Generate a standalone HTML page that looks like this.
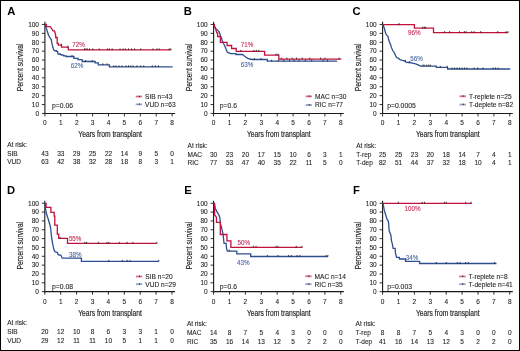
<!DOCTYPE html>
<html><head><meta charset="utf-8"><title>Survival curves</title>
<style>
html,body{margin:0;padding:0;background:#fff;}
svg{display:block;will-change:transform;}
text{font-family:"Liberation Sans",sans-serif;}
</style></head><body>
<svg width="520" height="351" viewBox="0 0 520 351">
<rect x="0" y="0" width="520" height="351" fill="#fff"/>
<text x="7.30" y="15.20" font-size="11.2" text-anchor="start" fill="#000" font-weight="bold">A</text>
<line x1="44.90" y1="21.85" x2="44.90" y2="113.95" stroke="#1a1a1a" stroke-width="1.1"/>
<line x1="41.90" y1="113.45" x2="44.90" y2="113.45" stroke="#1a1a1a" stroke-width="0.9"/>
<text x="39.00" y="115.75" font-size="6.5" text-anchor="end" fill="#231f20" stroke="#231f20" stroke-width="0.1">0</text>
<line x1="41.90" y1="104.55" x2="44.90" y2="104.55" stroke="#1a1a1a" stroke-width="0.9"/>
<text x="39.00" y="106.85" font-size="6.5" text-anchor="end" fill="#231f20" stroke="#231f20" stroke-width="0.1">10</text>
<line x1="41.90" y1="95.65" x2="44.90" y2="95.65" stroke="#1a1a1a" stroke-width="0.9"/>
<text x="39.00" y="97.95" font-size="6.5" text-anchor="end" fill="#231f20" stroke="#231f20" stroke-width="0.1">20</text>
<line x1="41.90" y1="86.75" x2="44.90" y2="86.75" stroke="#1a1a1a" stroke-width="0.9"/>
<text x="39.00" y="89.05" font-size="6.5" text-anchor="end" fill="#231f20" stroke="#231f20" stroke-width="0.1">30</text>
<line x1="41.90" y1="77.85" x2="44.90" y2="77.85" stroke="#1a1a1a" stroke-width="0.9"/>
<text x="39.00" y="80.15" font-size="6.5" text-anchor="end" fill="#231f20" stroke="#231f20" stroke-width="0.1">40</text>
<line x1="41.90" y1="68.95" x2="44.90" y2="68.95" stroke="#1a1a1a" stroke-width="0.9"/>
<text x="39.00" y="71.25" font-size="6.5" text-anchor="end" fill="#231f20" stroke="#231f20" stroke-width="0.1">50</text>
<line x1="41.90" y1="60.05" x2="44.90" y2="60.05" stroke="#1a1a1a" stroke-width="0.9"/>
<text x="39.00" y="62.35" font-size="6.5" text-anchor="end" fill="#231f20" stroke="#231f20" stroke-width="0.1">60</text>
<line x1="41.90" y1="51.15" x2="44.90" y2="51.15" stroke="#1a1a1a" stroke-width="0.9"/>
<text x="39.00" y="53.45" font-size="6.5" text-anchor="end" fill="#231f20" stroke="#231f20" stroke-width="0.1">70</text>
<line x1="41.90" y1="42.25" x2="44.90" y2="42.25" stroke="#1a1a1a" stroke-width="0.9"/>
<text x="39.00" y="44.55" font-size="6.5" text-anchor="end" fill="#231f20" stroke="#231f20" stroke-width="0.1">80</text>
<line x1="41.90" y1="33.35" x2="44.90" y2="33.35" stroke="#1a1a1a" stroke-width="0.9"/>
<text x="39.00" y="35.65" font-size="6.5" text-anchor="end" fill="#231f20" stroke="#231f20" stroke-width="0.1">90</text>
<line x1="41.90" y1="24.45" x2="44.90" y2="24.45" stroke="#1a1a1a" stroke-width="0.9"/>
<text x="39.00" y="26.75" font-size="6.5" text-anchor="end" fill="#231f20" stroke="#231f20" stroke-width="0.1">100</text>
<line x1="44.40" y1="113.45" x2="175.10" y2="113.45" stroke="#1a1a1a" stroke-width="1.1"/>
<line x1="44.90" y1="113.45" x2="44.90" y2="116.45" stroke="#1a1a1a" stroke-width="0.9"/>
<text x="44.90" y="124.90" font-size="6.5" text-anchor="middle" fill="#231f20" stroke="#231f20" stroke-width="0.1">0</text>
<line x1="60.80" y1="113.45" x2="60.80" y2="116.45" stroke="#1a1a1a" stroke-width="0.9"/>
<text x="60.80" y="124.90" font-size="6.5" text-anchor="middle" fill="#231f20" stroke="#231f20" stroke-width="0.1">1</text>
<line x1="76.70" y1="113.45" x2="76.70" y2="116.45" stroke="#1a1a1a" stroke-width="0.9"/>
<text x="76.70" y="124.90" font-size="6.5" text-anchor="middle" fill="#231f20" stroke="#231f20" stroke-width="0.1">2</text>
<line x1="92.60" y1="113.45" x2="92.60" y2="116.45" stroke="#1a1a1a" stroke-width="0.9"/>
<text x="92.60" y="124.90" font-size="6.5" text-anchor="middle" fill="#231f20" stroke="#231f20" stroke-width="0.1">3</text>
<line x1="108.50" y1="113.45" x2="108.50" y2="116.45" stroke="#1a1a1a" stroke-width="0.9"/>
<text x="108.50" y="124.90" font-size="6.5" text-anchor="middle" fill="#231f20" stroke="#231f20" stroke-width="0.1">4</text>
<line x1="124.40" y1="113.45" x2="124.40" y2="116.45" stroke="#1a1a1a" stroke-width="0.9"/>
<text x="124.40" y="124.90" font-size="6.5" text-anchor="middle" fill="#231f20" stroke="#231f20" stroke-width="0.1">5</text>
<line x1="140.30" y1="113.45" x2="140.30" y2="116.45" stroke="#1a1a1a" stroke-width="0.9"/>
<text x="140.30" y="124.90" font-size="6.5" text-anchor="middle" fill="#231f20" stroke="#231f20" stroke-width="0.1">6</text>
<line x1="156.20" y1="113.45" x2="156.20" y2="116.45" stroke="#1a1a1a" stroke-width="0.9"/>
<text x="156.20" y="124.90" font-size="6.5" text-anchor="middle" fill="#231f20" stroke="#231f20" stroke-width="0.1">7</text>
<line x1="172.10" y1="113.45" x2="172.10" y2="116.45" stroke="#1a1a1a" stroke-width="0.9"/>
<text x="172.10" y="124.90" font-size="6.5" text-anchor="middle" fill="#231f20" stroke="#231f20" stroke-width="0.1">8</text>
<text transform="translate(78.30 137.00) scale(0.81 1)" font-size="8.3" text-anchor="start" fill="#231f20" stroke="#231f20" stroke-width="0.18">Years from transplant</text>
<text transform="translate(22.80 67.40) rotate(-90) scale(0.81 1)" font-size="8.3" text-anchor="middle" fill="#231f20" stroke="#231f20" stroke-width="0.18">Percent survival</text>
<text x="52.00" y="107.90" font-size="6.8" text-anchor="start" fill="#231f20" stroke="#231f20" stroke-width="0.1">p=0.06</text>
<line x1="135.70" y1="96.60" x2="142.10" y2="96.60" stroke="#c0123c" stroke-width="1.8" stroke-opacity="0.6"/>
<line x1="135.70" y1="104.40" x2="142.10" y2="104.40" stroke="#2c4e90" stroke-width="1.8" stroke-opacity="0.5"/>
<line x1="139.30" y1="95.70" x2="139.30" y2="96.90" stroke="#000" stroke-width="0.9"/>
<line x1="139.30" y1="103.50" x2="139.30" y2="104.70" stroke="#000" stroke-width="0.9"/>
<text x="145.10" y="98.90" font-size="6.6" text-anchor="start" fill="#231f20" stroke="#231f20" stroke-width="0.1">SIB n=43</text>
<text x="145.10" y="106.70" font-size="6.6" text-anchor="start" fill="#231f20" stroke="#231f20" stroke-width="0.1">VUD n=63</text>
<text x="7.20" y="147.00" font-size="6.5" text-anchor="start" fill="#231f20" stroke="#231f20" stroke-width="0.1">At risk:</text>
<text x="7.20" y="155.70" font-size="6.5" text-anchor="start" fill="#231f20" stroke="#231f20" stroke-width="0.1">SIB</text>
<text x="7.20" y="164.30" font-size="6.5" text-anchor="start" fill="#231f20" stroke="#231f20" stroke-width="0.1">VUD</text>
<text x="44.90" y="155.70" font-size="6.5" text-anchor="middle" fill="#231f20" stroke="#231f20" stroke-width="0.1">43</text>
<text x="60.80" y="155.70" font-size="6.5" text-anchor="middle" fill="#231f20" stroke="#231f20" stroke-width="0.1">33</text>
<text x="76.70" y="155.70" font-size="6.5" text-anchor="middle" fill="#231f20" stroke="#231f20" stroke-width="0.1">29</text>
<text x="92.60" y="155.70" font-size="6.5" text-anchor="middle" fill="#231f20" stroke="#231f20" stroke-width="0.1">25</text>
<text x="108.50" y="155.70" font-size="6.5" text-anchor="middle" fill="#231f20" stroke="#231f20" stroke-width="0.1">22</text>
<text x="124.40" y="155.70" font-size="6.5" text-anchor="middle" fill="#231f20" stroke="#231f20" stroke-width="0.1">14</text>
<text x="140.30" y="155.70" font-size="6.5" text-anchor="middle" fill="#231f20" stroke="#231f20" stroke-width="0.1">9</text>
<text x="156.20" y="155.70" font-size="6.5" text-anchor="middle" fill="#231f20" stroke="#231f20" stroke-width="0.1">5</text>
<text x="172.10" y="155.70" font-size="6.5" text-anchor="middle" fill="#231f20" stroke="#231f20" stroke-width="0.1">0</text>
<text x="44.90" y="164.30" font-size="6.5" text-anchor="middle" fill="#231f20" stroke="#231f20" stroke-width="0.1">63</text>
<text x="60.80" y="164.30" font-size="6.5" text-anchor="middle" fill="#231f20" stroke="#231f20" stroke-width="0.1">42</text>
<text x="76.70" y="164.30" font-size="6.5" text-anchor="middle" fill="#231f20" stroke="#231f20" stroke-width="0.1">38</text>
<text x="92.60" y="164.30" font-size="6.5" text-anchor="middle" fill="#231f20" stroke="#231f20" stroke-width="0.1">32</text>
<text x="108.50" y="164.30" font-size="6.5" text-anchor="middle" fill="#231f20" stroke="#231f20" stroke-width="0.1">28</text>
<text x="124.40" y="164.30" font-size="6.5" text-anchor="middle" fill="#231f20" stroke="#231f20" stroke-width="0.1">18</text>
<text x="140.30" y="164.30" font-size="6.5" text-anchor="middle" fill="#231f20" stroke="#231f20" stroke-width="0.1">8</text>
<text x="156.20" y="164.30" font-size="6.5" text-anchor="middle" fill="#231f20" stroke="#231f20" stroke-width="0.1">3</text>
<text x="172.10" y="164.30" font-size="6.5" text-anchor="middle" fill="#231f20" stroke="#231f20" stroke-width="0.1">1</text>
<path d="M45.00,24.50 L46.50,28.90 L47.30,31.20 L48.50,35.30 L49.90,37.60 L51.10,39.30 L51.70,41.90 L52.20,44.90 L53.40,49.00 L54.30,50.60 L56.30,50.60 L56.30,51.40 L57.60,51.40 L57.60,52.30 L58.20,54.00 L60.20,54.00 L60.20,54.60 L61.90,54.60 L61.90,55.20 L63.70,55.20 L63.70,55.80 L66.00,55.80 L66.00,56.50 L73.90,56.50 L73.90,58.30 L78.00,58.30 L78.00,59.70 L82.20,59.70 L82.20,61.50 L95.10,61.50 L95.10,62.90 L98.30,62.90 L98.30,64.80 L109.40,64.80 L109.40,66.80 L172.60,66.80" fill="none" stroke="#2c4e90" stroke-width="1.3" stroke-linejoin="miter" stroke-miterlimit="2"/>
<path d="M45.00,24.50 L46.40,24.50 L46.40,26.60 L50.20,26.60 L51.10,27.80 L52.20,29.50 L53.10,30.90 L54.50,30.90 L55.10,33.00 L55.70,35.30 L55.70,37.50 L57.20,37.50 L57.20,43.30 L58.30,43.30 L58.30,45.20 L61.50,45.20 L61.50,47.20 L68.30,47.20 L68.30,49.90 L171.20,49.90" fill="none" stroke="#c0123c" stroke-width="1.3" stroke-linejoin="miter" stroke-miterlimit="2"/>
<line x1="72.00" y1="55.00" x2="72.00" y2="56.60" stroke="#111" stroke-width="0.8"/>
<line x1="85.40" y1="60.00" x2="85.40" y2="61.60" stroke="#111" stroke-width="0.8"/>
<line x1="92.30" y1="60.00" x2="92.30" y2="61.60" stroke="#111" stroke-width="0.8"/>
<line x1="102.90" y1="63.30" x2="102.90" y2="64.90" stroke="#111" stroke-width="0.8"/>
<line x1="107.00" y1="63.30" x2="107.00" y2="64.90" stroke="#111" stroke-width="0.8"/>
<line x1="113.80" y1="65.30" x2="113.80" y2="66.90" stroke="#111" stroke-width="0.8"/>
<line x1="116.00" y1="65.30" x2="116.00" y2="66.90" stroke="#111" stroke-width="0.8"/>
<line x1="119.00" y1="65.30" x2="119.00" y2="66.90" stroke="#111" stroke-width="0.8"/>
<line x1="122.00" y1="65.30" x2="122.00" y2="66.90" stroke="#111" stroke-width="0.8"/>
<line x1="126.00" y1="65.30" x2="126.00" y2="66.90" stroke="#111" stroke-width="0.8"/>
<line x1="128.50" y1="65.30" x2="128.50" y2="66.90" stroke="#111" stroke-width="0.8"/>
<line x1="130.80" y1="65.30" x2="130.80" y2="66.90" stroke="#111" stroke-width="0.8"/>
<line x1="133.00" y1="65.30" x2="133.00" y2="66.90" stroke="#111" stroke-width="0.8"/>
<line x1="137.00" y1="65.30" x2="137.00" y2="66.90" stroke="#111" stroke-width="0.8"/>
<line x1="140.80" y1="65.30" x2="140.80" y2="66.90" stroke="#111" stroke-width="0.8"/>
<line x1="143.80" y1="65.30" x2="143.80" y2="66.90" stroke="#111" stroke-width="0.8"/>
<line x1="152.30" y1="65.30" x2="152.30" y2="66.90" stroke="#111" stroke-width="0.8"/>
<line x1="155.40" y1="65.30" x2="155.40" y2="66.90" stroke="#111" stroke-width="0.8"/>
<line x1="158.50" y1="65.30" x2="158.50" y2="66.90" stroke="#111" stroke-width="0.8"/>
<line x1="61.30" y1="43.70" x2="61.30" y2="45.30" stroke="#111" stroke-width="0.8"/>
<line x1="67.90" y1="45.70" x2="67.90" y2="47.30" stroke="#111" stroke-width="0.8"/>
<line x1="84.50" y1="48.40" x2="84.50" y2="50.00" stroke="#111" stroke-width="0.8"/>
<line x1="85.90" y1="48.40" x2="85.90" y2="50.00" stroke="#111" stroke-width="0.8"/>
<line x1="87.20" y1="48.40" x2="87.20" y2="50.00" stroke="#111" stroke-width="0.8"/>
<line x1="89.50" y1="48.40" x2="89.50" y2="50.00" stroke="#111" stroke-width="0.8"/>
<line x1="92.80" y1="48.40" x2="92.80" y2="50.00" stroke="#111" stroke-width="0.8"/>
<line x1="99.20" y1="48.40" x2="99.20" y2="50.00" stroke="#111" stroke-width="0.8"/>
<line x1="107.50" y1="48.40" x2="107.50" y2="50.00" stroke="#111" stroke-width="0.8"/>
<line x1="109.40" y1="48.40" x2="109.40" y2="50.00" stroke="#111" stroke-width="0.8"/>
<line x1="112.20" y1="48.40" x2="112.20" y2="50.00" stroke="#111" stroke-width="0.8"/>
<line x1="120.00" y1="48.40" x2="120.00" y2="50.00" stroke="#111" stroke-width="0.8"/>
<line x1="123.00" y1="48.40" x2="123.00" y2="50.00" stroke="#111" stroke-width="0.8"/>
<line x1="125.40" y1="48.40" x2="125.40" y2="50.00" stroke="#111" stroke-width="0.8"/>
<line x1="128.50" y1="48.40" x2="128.50" y2="50.00" stroke="#111" stroke-width="0.8"/>
<line x1="131.50" y1="48.40" x2="131.50" y2="50.00" stroke="#111" stroke-width="0.8"/>
<line x1="134.60" y1="48.40" x2="134.60" y2="50.00" stroke="#111" stroke-width="0.8"/>
<line x1="140.80" y1="48.40" x2="140.80" y2="50.00" stroke="#111" stroke-width="0.8"/>
<line x1="153.00" y1="48.40" x2="153.00" y2="50.00" stroke="#111" stroke-width="0.8"/>
<line x1="157.00" y1="48.40" x2="157.00" y2="50.00" stroke="#111" stroke-width="0.8"/>
<line x1="159.20" y1="48.40" x2="159.20" y2="50.00" stroke="#111" stroke-width="0.8"/>
<line x1="169.20" y1="48.40" x2="169.20" y2="50.00" stroke="#111" stroke-width="0.8"/>
<line x1="170.80" y1="48.40" x2="170.80" y2="50.00" stroke="#111" stroke-width="0.8"/>
<text transform="translate(72.30 46.90) scale(0.96 1)" font-size="6.5" text-anchor="start" fill="#c42a52" stroke="#c42a52" stroke-width="0.1">72%</text>
<text transform="translate(70.80 68.00) scale(0.96 1)" font-size="6.5" text-anchor="start" fill="#4a66a0" stroke="#4a66a0" stroke-width="0.1">62%</text>
<text x="183.80" y="15.20" font-size="11.2" text-anchor="start" fill="#000" font-weight="bold">B</text>
<line x1="213.60" y1="21.85" x2="213.60" y2="113.95" stroke="#1a1a1a" stroke-width="1.1"/>
<line x1="210.60" y1="113.45" x2="213.60" y2="113.45" stroke="#1a1a1a" stroke-width="0.9"/>
<text x="207.70" y="115.75" font-size="6.5" text-anchor="end" fill="#231f20" stroke="#231f20" stroke-width="0.1">0</text>
<line x1="210.60" y1="104.55" x2="213.60" y2="104.55" stroke="#1a1a1a" stroke-width="0.9"/>
<text x="207.70" y="106.85" font-size="6.5" text-anchor="end" fill="#231f20" stroke="#231f20" stroke-width="0.1">10</text>
<line x1="210.60" y1="95.65" x2="213.60" y2="95.65" stroke="#1a1a1a" stroke-width="0.9"/>
<text x="207.70" y="97.95" font-size="6.5" text-anchor="end" fill="#231f20" stroke="#231f20" stroke-width="0.1">20</text>
<line x1="210.60" y1="86.75" x2="213.60" y2="86.75" stroke="#1a1a1a" stroke-width="0.9"/>
<text x="207.70" y="89.05" font-size="6.5" text-anchor="end" fill="#231f20" stroke="#231f20" stroke-width="0.1">30</text>
<line x1="210.60" y1="77.85" x2="213.60" y2="77.85" stroke="#1a1a1a" stroke-width="0.9"/>
<text x="207.70" y="80.15" font-size="6.5" text-anchor="end" fill="#231f20" stroke="#231f20" stroke-width="0.1">40</text>
<line x1="210.60" y1="68.95" x2="213.60" y2="68.95" stroke="#1a1a1a" stroke-width="0.9"/>
<text x="207.70" y="71.25" font-size="6.5" text-anchor="end" fill="#231f20" stroke="#231f20" stroke-width="0.1">50</text>
<line x1="210.60" y1="60.05" x2="213.60" y2="60.05" stroke="#1a1a1a" stroke-width="0.9"/>
<text x="207.70" y="62.35" font-size="6.5" text-anchor="end" fill="#231f20" stroke="#231f20" stroke-width="0.1">60</text>
<line x1="210.60" y1="51.15" x2="213.60" y2="51.15" stroke="#1a1a1a" stroke-width="0.9"/>
<text x="207.70" y="53.45" font-size="6.5" text-anchor="end" fill="#231f20" stroke="#231f20" stroke-width="0.1">70</text>
<line x1="210.60" y1="42.25" x2="213.60" y2="42.25" stroke="#1a1a1a" stroke-width="0.9"/>
<text x="207.70" y="44.55" font-size="6.5" text-anchor="end" fill="#231f20" stroke="#231f20" stroke-width="0.1">80</text>
<line x1="210.60" y1="33.35" x2="213.60" y2="33.35" stroke="#1a1a1a" stroke-width="0.9"/>
<text x="207.70" y="35.65" font-size="6.5" text-anchor="end" fill="#231f20" stroke="#231f20" stroke-width="0.1">90</text>
<line x1="210.60" y1="24.45" x2="213.60" y2="24.45" stroke="#1a1a1a" stroke-width="0.9"/>
<text x="207.70" y="26.75" font-size="6.5" text-anchor="end" fill="#231f20" stroke="#231f20" stroke-width="0.1">100</text>
<line x1="213.10" y1="113.45" x2="343.80" y2="113.45" stroke="#1a1a1a" stroke-width="1.1"/>
<line x1="213.60" y1="113.45" x2="213.60" y2="116.45" stroke="#1a1a1a" stroke-width="0.9"/>
<text x="213.60" y="124.90" font-size="6.5" text-anchor="middle" fill="#231f20" stroke="#231f20" stroke-width="0.1">0</text>
<line x1="229.50" y1="113.45" x2="229.50" y2="116.45" stroke="#1a1a1a" stroke-width="0.9"/>
<text x="229.50" y="124.90" font-size="6.5" text-anchor="middle" fill="#231f20" stroke="#231f20" stroke-width="0.1">1</text>
<line x1="245.40" y1="113.45" x2="245.40" y2="116.45" stroke="#1a1a1a" stroke-width="0.9"/>
<text x="245.40" y="124.90" font-size="6.5" text-anchor="middle" fill="#231f20" stroke="#231f20" stroke-width="0.1">2</text>
<line x1="261.30" y1="113.45" x2="261.30" y2="116.45" stroke="#1a1a1a" stroke-width="0.9"/>
<text x="261.30" y="124.90" font-size="6.5" text-anchor="middle" fill="#231f20" stroke="#231f20" stroke-width="0.1">3</text>
<line x1="277.20" y1="113.45" x2="277.20" y2="116.45" stroke="#1a1a1a" stroke-width="0.9"/>
<text x="277.20" y="124.90" font-size="6.5" text-anchor="middle" fill="#231f20" stroke="#231f20" stroke-width="0.1">4</text>
<line x1="293.10" y1="113.45" x2="293.10" y2="116.45" stroke="#1a1a1a" stroke-width="0.9"/>
<text x="293.10" y="124.90" font-size="6.5" text-anchor="middle" fill="#231f20" stroke="#231f20" stroke-width="0.1">5</text>
<line x1="309.00" y1="113.45" x2="309.00" y2="116.45" stroke="#1a1a1a" stroke-width="0.9"/>
<text x="309.00" y="124.90" font-size="6.5" text-anchor="middle" fill="#231f20" stroke="#231f20" stroke-width="0.1">6</text>
<line x1="324.90" y1="113.45" x2="324.90" y2="116.45" stroke="#1a1a1a" stroke-width="0.9"/>
<text x="324.90" y="124.90" font-size="6.5" text-anchor="middle" fill="#231f20" stroke="#231f20" stroke-width="0.1">7</text>
<line x1="340.80" y1="113.45" x2="340.80" y2="116.45" stroke="#1a1a1a" stroke-width="0.9"/>
<text x="340.80" y="124.90" font-size="6.5" text-anchor="middle" fill="#231f20" stroke="#231f20" stroke-width="0.1">8</text>
<text transform="translate(247.00 137.00) scale(0.81 1)" font-size="8.3" text-anchor="start" fill="#231f20" stroke="#231f20" stroke-width="0.18">Years from transplant</text>
<text transform="translate(191.50 67.40) rotate(-90) scale(0.81 1)" font-size="8.3" text-anchor="middle" fill="#231f20" stroke="#231f20" stroke-width="0.18">Percent survival</text>
<text x="219.80" y="107.90" font-size="6.8" text-anchor="start" fill="#231f20" stroke="#231f20" stroke-width="0.1">p=0.6</text>
<line x1="305.60" y1="96.40" x2="312.00" y2="96.40" stroke="#c0123c" stroke-width="1.8" stroke-opacity="0.6"/>
<line x1="305.60" y1="105.10" x2="312.00" y2="105.10" stroke="#2c4e90" stroke-width="1.8" stroke-opacity="0.5"/>
<line x1="309.20" y1="95.50" x2="309.20" y2="96.70" stroke="#000" stroke-width="0.9"/>
<line x1="309.20" y1="104.20" x2="309.20" y2="105.40" stroke="#000" stroke-width="0.9"/>
<text x="315.00" y="98.70" font-size="6.6" text-anchor="start" fill="#231f20" stroke="#231f20" stroke-width="0.1">MAC n=30</text>
<text x="315.00" y="107.40" font-size="6.6" text-anchor="start" fill="#231f20" stroke="#231f20" stroke-width="0.1">RIC n=77</text>
<text x="187.60" y="147.70" font-size="6.5" text-anchor="start" fill="#231f20" stroke="#231f20" stroke-width="0.1">At risk:</text>
<text x="187.60" y="156.50" font-size="6.5" text-anchor="start" fill="#231f20" stroke="#231f20" stroke-width="0.1">MAC</text>
<text x="187.60" y="165.20" font-size="6.5" text-anchor="start" fill="#231f20" stroke="#231f20" stroke-width="0.1">RIC</text>
<text x="213.60" y="156.50" font-size="6.5" text-anchor="middle" fill="#231f20" stroke="#231f20" stroke-width="0.1">30</text>
<text x="229.50" y="156.50" font-size="6.5" text-anchor="middle" fill="#231f20" stroke="#231f20" stroke-width="0.1">23</text>
<text x="245.40" y="156.50" font-size="6.5" text-anchor="middle" fill="#231f20" stroke="#231f20" stroke-width="0.1">20</text>
<text x="261.30" y="156.50" font-size="6.5" text-anchor="middle" fill="#231f20" stroke="#231f20" stroke-width="0.1">17</text>
<text x="277.20" y="156.50" font-size="6.5" text-anchor="middle" fill="#231f20" stroke="#231f20" stroke-width="0.1">15</text>
<text x="293.10" y="156.50" font-size="6.5" text-anchor="middle" fill="#231f20" stroke="#231f20" stroke-width="0.1">10</text>
<text x="309.00" y="156.50" font-size="6.5" text-anchor="middle" fill="#231f20" stroke="#231f20" stroke-width="0.1">6</text>
<text x="324.90" y="156.50" font-size="6.5" text-anchor="middle" fill="#231f20" stroke="#231f20" stroke-width="0.1">3</text>
<text x="340.80" y="156.50" font-size="6.5" text-anchor="middle" fill="#231f20" stroke="#231f20" stroke-width="0.1">1</text>
<text x="213.60" y="165.20" font-size="6.5" text-anchor="middle" fill="#231f20" stroke="#231f20" stroke-width="0.1">77</text>
<text x="229.50" y="165.20" font-size="6.5" text-anchor="middle" fill="#231f20" stroke="#231f20" stroke-width="0.1">53</text>
<text x="245.40" y="165.20" font-size="6.5" text-anchor="middle" fill="#231f20" stroke="#231f20" stroke-width="0.1">47</text>
<text x="261.30" y="165.20" font-size="6.5" text-anchor="middle" fill="#231f20" stroke="#231f20" stroke-width="0.1">40</text>
<text x="277.20" y="165.20" font-size="6.5" text-anchor="middle" fill="#231f20" stroke="#231f20" stroke-width="0.1">35</text>
<text x="293.10" y="165.20" font-size="6.5" text-anchor="middle" fill="#231f20" stroke="#231f20" stroke-width="0.1">22</text>
<text x="309.00" y="165.20" font-size="6.5" text-anchor="middle" fill="#231f20" stroke="#231f20" stroke-width="0.1">11</text>
<text x="324.90" y="165.20" font-size="6.5" text-anchor="middle" fill="#231f20" stroke="#231f20" stroke-width="0.1">5</text>
<text x="340.80" y="165.20" font-size="6.5" text-anchor="middle" fill="#231f20" stroke="#231f20" stroke-width="0.1">0</text>
<path d="M213.80,24.50 L215.60,28.50 L217.60,30.10 L219.30,32.10 L220.50,35.70 L221.70,39.00 L222.90,42.20 L224.60,45.40 L226.30,49.70 L227.20,52.10 L228.90,52.90 L230.80,53.70 L236.00,53.70 L236.00,54.50 L242.50,54.50 L244.00,55.80 L245.70,57.00 L247.30,58.20 L249.70,59.00 L252.20,59.50 L267.30,59.50 L267.30,61.20 L337.10,61.20" fill="none" stroke="#2c4e90" stroke-width="1.3" stroke-linejoin="miter" stroke-miterlimit="2"/>
<path d="M213.80,24.50 L214.40,24.50 L214.40,26.50 L215.20,28.00 L216.00,30.00 L216.80,32.90 L217.60,32.90 L217.60,36.50 L220.40,36.50 L220.40,42.40 L227.10,42.40 L227.10,45.50 L231.60,45.50 L231.60,48.50 L236.20,48.50 L236.20,51.40 L264.60,51.40 L264.60,55.20 L278.80,55.20 L278.80,59.10 L341.40,59.10" fill="none" stroke="#c0123c" stroke-width="1.3" stroke-linejoin="miter" stroke-miterlimit="2"/>
<line x1="254.30" y1="58.00" x2="254.30" y2="59.60" stroke="#111" stroke-width="0.8"/>
<line x1="261.00" y1="58.00" x2="261.00" y2="59.60" stroke="#111" stroke-width="0.8"/>
<line x1="271.60" y1="59.70" x2="271.60" y2="61.30" stroke="#111" stroke-width="0.8"/>
<line x1="278.40" y1="59.70" x2="278.40" y2="61.30" stroke="#111" stroke-width="0.8"/>
<line x1="283.80" y1="59.70" x2="283.80" y2="61.30" stroke="#111" stroke-width="0.8"/>
<line x1="289.50" y1="59.70" x2="289.50" y2="61.30" stroke="#111" stroke-width="0.8"/>
<line x1="294.00" y1="59.70" x2="294.00" y2="61.30" stroke="#111" stroke-width="0.8"/>
<line x1="299.00" y1="59.70" x2="299.00" y2="61.30" stroke="#111" stroke-width="0.8"/>
<line x1="305.40" y1="59.70" x2="305.40" y2="61.30" stroke="#111" stroke-width="0.8"/>
<line x1="311.70" y1="59.70" x2="311.70" y2="61.30" stroke="#111" stroke-width="0.8"/>
<line x1="323.10" y1="59.70" x2="323.10" y2="61.30" stroke="#111" stroke-width="0.8"/>
<line x1="327.60" y1="59.70" x2="327.60" y2="61.30" stroke="#111" stroke-width="0.8"/>
<line x1="240.80" y1="49.90" x2="240.80" y2="51.50" stroke="#111" stroke-width="0.8"/>
<line x1="253.80" y1="49.90" x2="253.80" y2="51.50" stroke="#111" stroke-width="0.8"/>
<line x1="256.30" y1="49.90" x2="256.30" y2="51.50" stroke="#111" stroke-width="0.8"/>
<line x1="258.70" y1="49.90" x2="258.70" y2="51.50" stroke="#111" stroke-width="0.8"/>
<line x1="276.00" y1="53.70" x2="276.00" y2="55.30" stroke="#111" stroke-width="0.8"/>
<line x1="277.90" y1="53.70" x2="277.90" y2="55.30" stroke="#111" stroke-width="0.8"/>
<line x1="281.30" y1="57.60" x2="281.30" y2="59.20" stroke="#111" stroke-width="0.8"/>
<line x1="287.00" y1="57.60" x2="287.00" y2="59.20" stroke="#111" stroke-width="0.8"/>
<line x1="292.00" y1="57.60" x2="292.00" y2="59.20" stroke="#111" stroke-width="0.8"/>
<line x1="296.50" y1="57.60" x2="296.50" y2="59.20" stroke="#111" stroke-width="0.8"/>
<line x1="302.20" y1="57.60" x2="302.20" y2="59.20" stroke="#111" stroke-width="0.8"/>
<line x1="309.80" y1="57.60" x2="309.80" y2="59.20" stroke="#111" stroke-width="0.8"/>
<line x1="320.60" y1="57.60" x2="320.60" y2="59.20" stroke="#111" stroke-width="0.8"/>
<line x1="325.00" y1="57.60" x2="325.00" y2="59.20" stroke="#111" stroke-width="0.8"/>
<line x1="339.00" y1="57.60" x2="339.00" y2="59.20" stroke="#111" stroke-width="0.8"/>
<text transform="translate(240.80 46.90) scale(0.96 1)" font-size="6.5" text-anchor="start" fill="#c42a52" stroke="#c42a52" stroke-width="0.1">71%</text>
<text transform="translate(240.80 66.70) scale(0.96 1)" font-size="6.5" text-anchor="start" fill="#4a66a0" stroke="#4a66a0" stroke-width="0.1">63%</text>
<text x="352.60" y="15.20" font-size="11.2" text-anchor="start" fill="#000" font-weight="bold">C</text>
<line x1="382.60" y1="21.85" x2="382.60" y2="113.95" stroke="#1a1a1a" stroke-width="1.1"/>
<line x1="379.60" y1="113.45" x2="382.60" y2="113.45" stroke="#1a1a1a" stroke-width="0.9"/>
<text x="376.70" y="115.75" font-size="6.5" text-anchor="end" fill="#231f20" stroke="#231f20" stroke-width="0.1">0</text>
<line x1="379.60" y1="104.55" x2="382.60" y2="104.55" stroke="#1a1a1a" stroke-width="0.9"/>
<text x="376.70" y="106.85" font-size="6.5" text-anchor="end" fill="#231f20" stroke="#231f20" stroke-width="0.1">10</text>
<line x1="379.60" y1="95.65" x2="382.60" y2="95.65" stroke="#1a1a1a" stroke-width="0.9"/>
<text x="376.70" y="97.95" font-size="6.5" text-anchor="end" fill="#231f20" stroke="#231f20" stroke-width="0.1">20</text>
<line x1="379.60" y1="86.75" x2="382.60" y2="86.75" stroke="#1a1a1a" stroke-width="0.9"/>
<text x="376.70" y="89.05" font-size="6.5" text-anchor="end" fill="#231f20" stroke="#231f20" stroke-width="0.1">30</text>
<line x1="379.60" y1="77.85" x2="382.60" y2="77.85" stroke="#1a1a1a" stroke-width="0.9"/>
<text x="376.70" y="80.15" font-size="6.5" text-anchor="end" fill="#231f20" stroke="#231f20" stroke-width="0.1">40</text>
<line x1="379.60" y1="68.95" x2="382.60" y2="68.95" stroke="#1a1a1a" stroke-width="0.9"/>
<text x="376.70" y="71.25" font-size="6.5" text-anchor="end" fill="#231f20" stroke="#231f20" stroke-width="0.1">50</text>
<line x1="379.60" y1="60.05" x2="382.60" y2="60.05" stroke="#1a1a1a" stroke-width="0.9"/>
<text x="376.70" y="62.35" font-size="6.5" text-anchor="end" fill="#231f20" stroke="#231f20" stroke-width="0.1">60</text>
<line x1="379.60" y1="51.15" x2="382.60" y2="51.15" stroke="#1a1a1a" stroke-width="0.9"/>
<text x="376.70" y="53.45" font-size="6.5" text-anchor="end" fill="#231f20" stroke="#231f20" stroke-width="0.1">70</text>
<line x1="379.60" y1="42.25" x2="382.60" y2="42.25" stroke="#1a1a1a" stroke-width="0.9"/>
<text x="376.70" y="44.55" font-size="6.5" text-anchor="end" fill="#231f20" stroke="#231f20" stroke-width="0.1">80</text>
<line x1="379.60" y1="33.35" x2="382.60" y2="33.35" stroke="#1a1a1a" stroke-width="0.9"/>
<text x="376.70" y="35.65" font-size="6.5" text-anchor="end" fill="#231f20" stroke="#231f20" stroke-width="0.1">90</text>
<line x1="379.60" y1="24.45" x2="382.60" y2="24.45" stroke="#1a1a1a" stroke-width="0.9"/>
<text x="376.70" y="26.75" font-size="6.5" text-anchor="end" fill="#231f20" stroke="#231f20" stroke-width="0.1">100</text>
<line x1="382.10" y1="113.45" x2="512.80" y2="113.45" stroke="#1a1a1a" stroke-width="1.1"/>
<line x1="382.60" y1="113.45" x2="382.60" y2="116.45" stroke="#1a1a1a" stroke-width="0.9"/>
<text x="382.60" y="124.90" font-size="6.5" text-anchor="middle" fill="#231f20" stroke="#231f20" stroke-width="0.1">0</text>
<line x1="398.50" y1="113.45" x2="398.50" y2="116.45" stroke="#1a1a1a" stroke-width="0.9"/>
<text x="398.50" y="124.90" font-size="6.5" text-anchor="middle" fill="#231f20" stroke="#231f20" stroke-width="0.1">1</text>
<line x1="414.40" y1="113.45" x2="414.40" y2="116.45" stroke="#1a1a1a" stroke-width="0.9"/>
<text x="414.40" y="124.90" font-size="6.5" text-anchor="middle" fill="#231f20" stroke="#231f20" stroke-width="0.1">2</text>
<line x1="430.30" y1="113.45" x2="430.30" y2="116.45" stroke="#1a1a1a" stroke-width="0.9"/>
<text x="430.30" y="124.90" font-size="6.5" text-anchor="middle" fill="#231f20" stroke="#231f20" stroke-width="0.1">3</text>
<line x1="446.20" y1="113.45" x2="446.20" y2="116.45" stroke="#1a1a1a" stroke-width="0.9"/>
<text x="446.20" y="124.90" font-size="6.5" text-anchor="middle" fill="#231f20" stroke="#231f20" stroke-width="0.1">4</text>
<line x1="462.10" y1="113.45" x2="462.10" y2="116.45" stroke="#1a1a1a" stroke-width="0.9"/>
<text x="462.10" y="124.90" font-size="6.5" text-anchor="middle" fill="#231f20" stroke="#231f20" stroke-width="0.1">5</text>
<line x1="478.00" y1="113.45" x2="478.00" y2="116.45" stroke="#1a1a1a" stroke-width="0.9"/>
<text x="478.00" y="124.90" font-size="6.5" text-anchor="middle" fill="#231f20" stroke="#231f20" stroke-width="0.1">6</text>
<line x1="493.90" y1="113.45" x2="493.90" y2="116.45" stroke="#1a1a1a" stroke-width="0.9"/>
<text x="493.90" y="124.90" font-size="6.5" text-anchor="middle" fill="#231f20" stroke="#231f20" stroke-width="0.1">7</text>
<line x1="509.80" y1="113.45" x2="509.80" y2="116.45" stroke="#1a1a1a" stroke-width="0.9"/>
<text x="509.80" y="124.90" font-size="6.5" text-anchor="middle" fill="#231f20" stroke="#231f20" stroke-width="0.1">8</text>
<text transform="translate(416.00 137.00) scale(0.81 1)" font-size="8.3" text-anchor="start" fill="#231f20" stroke="#231f20" stroke-width="0.18">Years from transplant</text>
<text transform="translate(360.50 67.40) rotate(-90) scale(0.81 1)" font-size="8.3" text-anchor="middle" fill="#231f20" stroke="#231f20" stroke-width="0.18">Percent survival</text>
<text x="387.20" y="107.90" font-size="6.8" text-anchor="start" fill="#231f20" stroke="#231f20" stroke-width="0.1">p=0.0005</text>
<line x1="459.60" y1="96.30" x2="466.00" y2="96.30" stroke="#c0123c" stroke-width="1.8" stroke-opacity="0.6"/>
<line x1="459.60" y1="104.60" x2="466.00" y2="104.60" stroke="#2c4e90" stroke-width="1.8" stroke-opacity="0.5"/>
<line x1="463.20" y1="95.40" x2="463.20" y2="96.60" stroke="#000" stroke-width="0.9"/>
<line x1="463.20" y1="103.70" x2="463.20" y2="104.90" stroke="#000" stroke-width="0.9"/>
<text x="469.00" y="98.60" font-size="6.6" text-anchor="start" fill="#231f20" stroke="#231f20" stroke-width="0.1">T-replete n=25</text>
<text x="469.00" y="106.90" font-size="6.6" text-anchor="start" fill="#231f20" stroke="#231f20" stroke-width="0.1">T-deplete n=82</text>
<text x="356.20" y="147.70" font-size="6.5" text-anchor="start" fill="#231f20" stroke="#231f20" stroke-width="0.1">At risk:</text>
<text x="356.20" y="156.50" font-size="6.5" text-anchor="start" fill="#231f20" stroke="#231f20" stroke-width="0.1">T-rep</text>
<text x="356.20" y="165.20" font-size="6.5" text-anchor="start" fill="#231f20" stroke="#231f20" stroke-width="0.1">T-dep</text>
<text x="382.60" y="156.50" font-size="6.5" text-anchor="middle" fill="#231f20" stroke="#231f20" stroke-width="0.1">25</text>
<text x="398.50" y="156.50" font-size="6.5" text-anchor="middle" fill="#231f20" stroke="#231f20" stroke-width="0.1">25</text>
<text x="414.40" y="156.50" font-size="6.5" text-anchor="middle" fill="#231f20" stroke="#231f20" stroke-width="0.1">23</text>
<text x="430.30" y="156.50" font-size="6.5" text-anchor="middle" fill="#231f20" stroke="#231f20" stroke-width="0.1">20</text>
<text x="446.20" y="156.50" font-size="6.5" text-anchor="middle" fill="#231f20" stroke="#231f20" stroke-width="0.1">18</text>
<text x="462.10" y="156.50" font-size="6.5" text-anchor="middle" fill="#231f20" stroke="#231f20" stroke-width="0.1">14</text>
<text x="478.00" y="156.50" font-size="6.5" text-anchor="middle" fill="#231f20" stroke="#231f20" stroke-width="0.1">7</text>
<text x="493.90" y="156.50" font-size="6.5" text-anchor="middle" fill="#231f20" stroke="#231f20" stroke-width="0.1">4</text>
<text x="509.80" y="156.50" font-size="6.5" text-anchor="middle" fill="#231f20" stroke="#231f20" stroke-width="0.1">1</text>
<text x="382.60" y="165.20" font-size="6.5" text-anchor="middle" fill="#231f20" stroke="#231f20" stroke-width="0.1">82</text>
<text x="398.50" y="165.20" font-size="6.5" text-anchor="middle" fill="#231f20" stroke="#231f20" stroke-width="0.1">51</text>
<text x="414.40" y="165.20" font-size="6.5" text-anchor="middle" fill="#231f20" stroke="#231f20" stroke-width="0.1">44</text>
<text x="430.30" y="165.20" font-size="6.5" text-anchor="middle" fill="#231f20" stroke="#231f20" stroke-width="0.1">37</text>
<text x="446.20" y="165.20" font-size="6.5" text-anchor="middle" fill="#231f20" stroke="#231f20" stroke-width="0.1">32</text>
<text x="462.10" y="165.20" font-size="6.5" text-anchor="middle" fill="#231f20" stroke="#231f20" stroke-width="0.1">18</text>
<text x="478.00" y="165.20" font-size="6.5" text-anchor="middle" fill="#231f20" stroke="#231f20" stroke-width="0.1">10</text>
<text x="493.90" y="165.20" font-size="6.5" text-anchor="middle" fill="#231f20" stroke="#231f20" stroke-width="0.1">4</text>
<text x="509.80" y="165.20" font-size="6.5" text-anchor="middle" fill="#231f20" stroke="#231f20" stroke-width="0.1">1</text>
<path d="M382.60,24.50 L383.50,26.10 L384.30,28.30 L385.20,31.80 L386.30,34.70 L388.00,36.40 L388.60,39.30 L389.50,42.20 L390.60,44.50 L391.20,46.90 L392.60,50.30 L394.30,52.70 L395.50,55.50 L396.70,57.60 L398.40,58.40 L400.10,59.60 L402.40,60.40 L405.00,61.00 L405.90,62.20 L408.80,62.50 L411.10,62.80 L413.40,63.30 L415.70,63.80 L418.10,64.90 L420.50,66.10 L436.30,66.10 L436.30,67.30 L447.60,67.30 L447.60,69.00 L510.20,69.00" fill="none" stroke="#2c4e90" stroke-width="1.3" stroke-linejoin="miter" stroke-miterlimit="2"/>
<path d="M382.60,24.60 L414.40,24.60 L414.40,28.20 L433.50,28.20 L433.50,32.60 L508.10,32.60" fill="none" stroke="#c0123c" stroke-width="1.3" stroke-linejoin="miter" stroke-miterlimit="2"/>
<line x1="405.30" y1="59.90" x2="405.30" y2="61.50" stroke="#111" stroke-width="0.8"/>
<line x1="409.60" y1="61.10" x2="409.60" y2="62.70" stroke="#111" stroke-width="0.8"/>
<line x1="422.90" y1="64.60" x2="422.90" y2="66.20" stroke="#111" stroke-width="0.8"/>
<line x1="424.10" y1="64.60" x2="424.10" y2="66.20" stroke="#111" stroke-width="0.8"/>
<line x1="426.60" y1="64.60" x2="426.60" y2="66.20" stroke="#111" stroke-width="0.8"/>
<line x1="428.60" y1="64.60" x2="428.60" y2="66.20" stroke="#111" stroke-width="0.8"/>
<line x1="430.20" y1="64.60" x2="430.20" y2="66.20" stroke="#111" stroke-width="0.8"/>
<line x1="440.30" y1="65.80" x2="440.30" y2="67.40" stroke="#111" stroke-width="0.8"/>
<line x1="447.20" y1="65.80" x2="447.20" y2="67.40" stroke="#111" stroke-width="0.8"/>
<line x1="452.00" y1="67.50" x2="452.00" y2="69.10" stroke="#111" stroke-width="0.8"/>
<line x1="454.50" y1="67.50" x2="454.50" y2="69.10" stroke="#111" stroke-width="0.8"/>
<line x1="457.00" y1="67.50" x2="457.00" y2="69.10" stroke="#111" stroke-width="0.8"/>
<line x1="459.50" y1="67.50" x2="459.50" y2="69.10" stroke="#111" stroke-width="0.8"/>
<line x1="462.00" y1="67.50" x2="462.00" y2="69.10" stroke="#111" stroke-width="0.8"/>
<line x1="464.50" y1="67.50" x2="464.50" y2="69.10" stroke="#111" stroke-width="0.8"/>
<line x1="467.00" y1="67.50" x2="467.00" y2="69.10" stroke="#111" stroke-width="0.8"/>
<line x1="474.00" y1="67.50" x2="474.00" y2="69.10" stroke="#111" stroke-width="0.8"/>
<line x1="477.70" y1="67.50" x2="477.70" y2="69.10" stroke="#111" stroke-width="0.8"/>
<line x1="483.00" y1="67.50" x2="483.00" y2="69.10" stroke="#111" stroke-width="0.8"/>
<line x1="493.00" y1="67.50" x2="493.00" y2="69.10" stroke="#111" stroke-width="0.8"/>
<line x1="495.50" y1="67.50" x2="495.50" y2="69.10" stroke="#111" stroke-width="0.8"/>
<line x1="498.00" y1="67.50" x2="498.00" y2="69.10" stroke="#111" stroke-width="0.8"/>
<line x1="399.00" y1="23.10" x2="399.00" y2="24.70" stroke="#111" stroke-width="0.8"/>
<line x1="422.70" y1="26.70" x2="422.70" y2="28.30" stroke="#111" stroke-width="0.8"/>
<line x1="424.30" y1="26.70" x2="424.30" y2="28.30" stroke="#111" stroke-width="0.8"/>
<line x1="425.60" y1="26.70" x2="425.60" y2="28.30" stroke="#111" stroke-width="0.8"/>
<line x1="444.70" y1="31.10" x2="444.70" y2="32.70" stroke="#111" stroke-width="0.8"/>
<line x1="449.60" y1="31.10" x2="449.60" y2="32.70" stroke="#111" stroke-width="0.8"/>
<line x1="459.40" y1="31.10" x2="459.40" y2="32.70" stroke="#111" stroke-width="0.8"/>
<line x1="464.30" y1="31.10" x2="464.30" y2="32.70" stroke="#111" stroke-width="0.8"/>
<line x1="466.00" y1="31.10" x2="466.00" y2="32.70" stroke="#111" stroke-width="0.8"/>
<line x1="471.70" y1="31.10" x2="471.70" y2="32.70" stroke="#111" stroke-width="0.8"/>
<line x1="474.10" y1="31.10" x2="474.10" y2="32.70" stroke="#111" stroke-width="0.8"/>
<line x1="480.70" y1="31.10" x2="480.70" y2="32.70" stroke="#111" stroke-width="0.8"/>
<line x1="497.80" y1="31.10" x2="497.80" y2="32.70" stroke="#111" stroke-width="0.8"/>
<line x1="506.00" y1="31.10" x2="506.00" y2="32.70" stroke="#111" stroke-width="0.8"/>
<line x1="508.00" y1="31.10" x2="508.00" y2="32.70" stroke="#111" stroke-width="0.8"/>
<text transform="translate(408.10 35.30) scale(0.96 1)" font-size="6.5" text-anchor="start" fill="#c42a52" stroke="#c42a52" stroke-width="0.1">96%</text>
<text transform="translate(410.20 60.50) scale(0.96 1)" font-size="6.5" text-anchor="start" fill="#4a66a0" stroke="#4a66a0" stroke-width="0.1">56%</text>
<text x="6.90" y="193.80" font-size="11.2" text-anchor="start" fill="#000" font-weight="bold">D</text>
<line x1="44.80" y1="200.65" x2="44.80" y2="292.15" stroke="#1a1a1a" stroke-width="1.1"/>
<line x1="41.80" y1="291.65" x2="44.80" y2="291.65" stroke="#1a1a1a" stroke-width="0.9"/>
<text x="38.90" y="293.95" font-size="6.5" text-anchor="end" fill="#231f20" stroke="#231f20" stroke-width="0.1">0</text>
<line x1="41.80" y1="282.81" x2="44.80" y2="282.81" stroke="#1a1a1a" stroke-width="0.9"/>
<text x="38.90" y="285.11" font-size="6.5" text-anchor="end" fill="#231f20" stroke="#231f20" stroke-width="0.1">10</text>
<line x1="41.80" y1="273.97" x2="44.80" y2="273.97" stroke="#1a1a1a" stroke-width="0.9"/>
<text x="38.90" y="276.27" font-size="6.5" text-anchor="end" fill="#231f20" stroke="#231f20" stroke-width="0.1">20</text>
<line x1="41.80" y1="265.13" x2="44.80" y2="265.13" stroke="#1a1a1a" stroke-width="0.9"/>
<text x="38.90" y="267.43" font-size="6.5" text-anchor="end" fill="#231f20" stroke="#231f20" stroke-width="0.1">30</text>
<line x1="41.80" y1="256.29" x2="44.80" y2="256.29" stroke="#1a1a1a" stroke-width="0.9"/>
<text x="38.90" y="258.59" font-size="6.5" text-anchor="end" fill="#231f20" stroke="#231f20" stroke-width="0.1">40</text>
<line x1="41.80" y1="247.45" x2="44.80" y2="247.45" stroke="#1a1a1a" stroke-width="0.9"/>
<text x="38.90" y="249.75" font-size="6.5" text-anchor="end" fill="#231f20" stroke="#231f20" stroke-width="0.1">50</text>
<line x1="41.80" y1="238.61" x2="44.80" y2="238.61" stroke="#1a1a1a" stroke-width="0.9"/>
<text x="38.90" y="240.91" font-size="6.5" text-anchor="end" fill="#231f20" stroke="#231f20" stroke-width="0.1">60</text>
<line x1="41.80" y1="229.77" x2="44.80" y2="229.77" stroke="#1a1a1a" stroke-width="0.9"/>
<text x="38.90" y="232.07" font-size="6.5" text-anchor="end" fill="#231f20" stroke="#231f20" stroke-width="0.1">70</text>
<line x1="41.80" y1="220.93" x2="44.80" y2="220.93" stroke="#1a1a1a" stroke-width="0.9"/>
<text x="38.90" y="223.23" font-size="6.5" text-anchor="end" fill="#231f20" stroke="#231f20" stroke-width="0.1">80</text>
<line x1="41.80" y1="212.09" x2="44.80" y2="212.09" stroke="#1a1a1a" stroke-width="0.9"/>
<text x="38.90" y="214.39" font-size="6.5" text-anchor="end" fill="#231f20" stroke="#231f20" stroke-width="0.1">90</text>
<line x1="41.80" y1="203.25" x2="44.80" y2="203.25" stroke="#1a1a1a" stroke-width="0.9"/>
<text x="38.90" y="205.55" font-size="6.5" text-anchor="end" fill="#231f20" stroke="#231f20" stroke-width="0.1">100</text>
<line x1="44.30" y1="291.65" x2="175.00" y2="291.65" stroke="#1a1a1a" stroke-width="1.1"/>
<line x1="44.80" y1="291.65" x2="44.80" y2="294.65" stroke="#1a1a1a" stroke-width="0.9"/>
<text x="44.80" y="303.80" font-size="6.5" text-anchor="middle" fill="#231f20" stroke="#231f20" stroke-width="0.1">0</text>
<line x1="60.70" y1="291.65" x2="60.70" y2="294.65" stroke="#1a1a1a" stroke-width="0.9"/>
<text x="60.70" y="303.80" font-size="6.5" text-anchor="middle" fill="#231f20" stroke="#231f20" stroke-width="0.1">1</text>
<line x1="76.60" y1="291.65" x2="76.60" y2="294.65" stroke="#1a1a1a" stroke-width="0.9"/>
<text x="76.60" y="303.80" font-size="6.5" text-anchor="middle" fill="#231f20" stroke="#231f20" stroke-width="0.1">2</text>
<line x1="92.50" y1="291.65" x2="92.50" y2="294.65" stroke="#1a1a1a" stroke-width="0.9"/>
<text x="92.50" y="303.80" font-size="6.5" text-anchor="middle" fill="#231f20" stroke="#231f20" stroke-width="0.1">3</text>
<line x1="108.40" y1="291.65" x2="108.40" y2="294.65" stroke="#1a1a1a" stroke-width="0.9"/>
<text x="108.40" y="303.80" font-size="6.5" text-anchor="middle" fill="#231f20" stroke="#231f20" stroke-width="0.1">4</text>
<line x1="124.30" y1="291.65" x2="124.30" y2="294.65" stroke="#1a1a1a" stroke-width="0.9"/>
<text x="124.30" y="303.80" font-size="6.5" text-anchor="middle" fill="#231f20" stroke="#231f20" stroke-width="0.1">5</text>
<line x1="140.20" y1="291.65" x2="140.20" y2="294.65" stroke="#1a1a1a" stroke-width="0.9"/>
<text x="140.20" y="303.80" font-size="6.5" text-anchor="middle" fill="#231f20" stroke="#231f20" stroke-width="0.1">6</text>
<line x1="156.10" y1="291.65" x2="156.10" y2="294.65" stroke="#1a1a1a" stroke-width="0.9"/>
<text x="156.10" y="303.80" font-size="6.5" text-anchor="middle" fill="#231f20" stroke="#231f20" stroke-width="0.1">7</text>
<line x1="172.00" y1="291.65" x2="172.00" y2="294.65" stroke="#1a1a1a" stroke-width="0.9"/>
<text x="172.00" y="303.80" font-size="6.5" text-anchor="middle" fill="#231f20" stroke="#231f20" stroke-width="0.1">8</text>
<text transform="translate(78.20 315.50) scale(0.81 1)" font-size="8.3" text-anchor="start" fill="#231f20" stroke="#231f20" stroke-width="0.18">Years from transplant</text>
<text transform="translate(22.70 245.70) rotate(-90) scale(0.81 1)" font-size="8.3" text-anchor="middle" fill="#231f20" stroke="#231f20" stroke-width="0.18">Percent survival</text>
<text x="52.00" y="288.70" font-size="6.8" text-anchor="start" fill="#231f20" stroke="#231f20" stroke-width="0.1">p=0.08</text>
<line x1="135.90" y1="276.50" x2="142.30" y2="276.50" stroke="#c0123c" stroke-width="1.8" stroke-opacity="0.6"/>
<line x1="135.90" y1="284.20" x2="142.30" y2="284.20" stroke="#2c4e90" stroke-width="1.8" stroke-opacity="0.5"/>
<line x1="139.50" y1="275.60" x2="139.50" y2="276.80" stroke="#000" stroke-width="0.9"/>
<line x1="139.50" y1="283.30" x2="139.50" y2="284.50" stroke="#000" stroke-width="0.9"/>
<text x="145.30" y="278.80" font-size="6.6" text-anchor="start" fill="#231f20" stroke="#231f20" stroke-width="0.1">SIB n=20</text>
<text x="145.30" y="286.50" font-size="6.6" text-anchor="start" fill="#231f20" stroke="#231f20" stroke-width="0.1">VUD n=29</text>
<text x="7.20" y="325.20" font-size="6.5" text-anchor="start" fill="#231f20" stroke="#231f20" stroke-width="0.1">At risk:</text>
<text x="7.20" y="334.00" font-size="6.5" text-anchor="start" fill="#231f20" stroke="#231f20" stroke-width="0.1">SIB</text>
<text x="7.20" y="342.60" font-size="6.5" text-anchor="start" fill="#231f20" stroke="#231f20" stroke-width="0.1">VUD</text>
<text x="44.80" y="334.00" font-size="6.5" text-anchor="middle" fill="#231f20" stroke="#231f20" stroke-width="0.1">20</text>
<text x="60.70" y="334.00" font-size="6.5" text-anchor="middle" fill="#231f20" stroke="#231f20" stroke-width="0.1">12</text>
<text x="76.60" y="334.00" font-size="6.5" text-anchor="middle" fill="#231f20" stroke="#231f20" stroke-width="0.1">10</text>
<text x="92.50" y="334.00" font-size="6.5" text-anchor="middle" fill="#231f20" stroke="#231f20" stroke-width="0.1">8</text>
<text x="108.40" y="334.00" font-size="6.5" text-anchor="middle" fill="#231f20" stroke="#231f20" stroke-width="0.1">6</text>
<text x="124.30" y="334.00" font-size="6.5" text-anchor="middle" fill="#231f20" stroke="#231f20" stroke-width="0.1">3</text>
<text x="140.20" y="334.00" font-size="6.5" text-anchor="middle" fill="#231f20" stroke="#231f20" stroke-width="0.1">3</text>
<text x="156.10" y="334.00" font-size="6.5" text-anchor="middle" fill="#231f20" stroke="#231f20" stroke-width="0.1">1</text>
<text x="172.00" y="334.00" font-size="6.5" text-anchor="middle" fill="#231f20" stroke="#231f20" stroke-width="0.1">0</text>
<text x="44.80" y="342.60" font-size="6.5" text-anchor="middle" fill="#231f20" stroke="#231f20" stroke-width="0.1">29</text>
<text x="60.70" y="342.60" font-size="6.5" text-anchor="middle" fill="#231f20" stroke="#231f20" stroke-width="0.1">12</text>
<text x="76.60" y="342.60" font-size="6.5" text-anchor="middle" fill="#231f20" stroke="#231f20" stroke-width="0.1">11</text>
<text x="92.50" y="342.60" font-size="6.5" text-anchor="middle" fill="#231f20" stroke="#231f20" stroke-width="0.1">11</text>
<text x="108.40" y="342.60" font-size="6.5" text-anchor="middle" fill="#231f20" stroke="#231f20" stroke-width="0.1">10</text>
<text x="124.30" y="342.60" font-size="6.5" text-anchor="middle" fill="#231f20" stroke="#231f20" stroke-width="0.1">5</text>
<text x="140.20" y="342.60" font-size="6.5" text-anchor="middle" fill="#231f20" stroke="#231f20" stroke-width="0.1">1</text>
<text x="156.10" y="342.60" font-size="6.5" text-anchor="middle" fill="#231f20" stroke="#231f20" stroke-width="0.1">1</text>
<text x="172.00" y="342.60" font-size="6.5" text-anchor="middle" fill="#231f20" stroke="#231f20" stroke-width="0.1">0</text>
<path d="M44.90,203.30 L45.20,207.20 L46.30,213.00 L48.10,218.80 L49.80,224.50 L50.60,228.00 L51.00,231.80 L51.50,236.40 L52.50,242.80 L53.30,246.90 L54.10,250.10 L54.90,251.70 L57.30,252.50 L58.10,254.60 L60.90,255.40 L62.20,257.80 L62.20,258.20 L81.40,258.20 L81.40,261.40 L158.80,261.40" fill="none" stroke="#2c4e90" stroke-width="1.3" stroke-linejoin="miter" stroke-miterlimit="2"/>
<path d="M44.90,203.30 L46.10,203.30 L46.10,207.40 L50.90,207.40 L50.90,212.30 L54.20,212.30 L54.20,216.20 L54.80,216.20 L54.80,225.20 L57.30,225.20 L57.30,234.20 L58.70,234.20 L58.70,238.40 L67.50,238.40 L67.50,243.40 L156.90,243.40" fill="none" stroke="#c0123c" stroke-width="1.3" stroke-linejoin="miter" stroke-miterlimit="2"/>
<line x1="108.80" y1="259.90" x2="108.80" y2="261.50" stroke="#111" stroke-width="0.8"/>
<line x1="122.30" y1="259.90" x2="122.30" y2="261.50" stroke="#111" stroke-width="0.8"/>
<line x1="127.10" y1="259.90" x2="127.10" y2="261.50" stroke="#111" stroke-width="0.8"/>
<line x1="130.00" y1="259.90" x2="130.00" y2="261.50" stroke="#111" stroke-width="0.8"/>
<line x1="158.80" y1="259.90" x2="158.80" y2="261.50" stroke="#111" stroke-width="0.8"/>
<line x1="60.20" y1="236.90" x2="60.20" y2="238.50" stroke="#111" stroke-width="0.8"/>
<line x1="84.80" y1="241.90" x2="84.80" y2="243.50" stroke="#111" stroke-width="0.8"/>
<line x1="86.60" y1="241.90" x2="86.60" y2="243.50" stroke="#111" stroke-width="0.8"/>
<line x1="98.30" y1="241.90" x2="98.30" y2="243.50" stroke="#111" stroke-width="0.8"/>
<line x1="106.90" y1="241.90" x2="106.90" y2="243.50" stroke="#111" stroke-width="0.8"/>
<line x1="108.80" y1="241.90" x2="108.80" y2="243.50" stroke="#111" stroke-width="0.8"/>
<line x1="119.40" y1="241.90" x2="119.40" y2="243.50" stroke="#111" stroke-width="0.8"/>
<line x1="127.10" y1="241.90" x2="127.10" y2="243.50" stroke="#111" stroke-width="0.8"/>
<line x1="132.90" y1="241.90" x2="132.90" y2="243.50" stroke="#111" stroke-width="0.8"/>
<line x1="156.90" y1="241.90" x2="156.90" y2="243.50" stroke="#111" stroke-width="0.8"/>
<text transform="translate(68.90 241.00) scale(0.96 1)" font-size="6.5" text-anchor="start" fill="#c42a52" stroke="#c42a52" stroke-width="0.1">55%</text>
<text transform="translate(69.00 256.60) scale(0.96 1)" font-size="6.5" text-anchor="start" fill="#4a66a0" stroke="#4a66a0" stroke-width="0.1">38%</text>
<text x="184.20" y="193.80" font-size="11.2" text-anchor="start" fill="#000" font-weight="bold">E</text>
<line x1="213.60" y1="200.65" x2="213.60" y2="292.15" stroke="#1a1a1a" stroke-width="1.1"/>
<line x1="210.60" y1="291.65" x2="213.60" y2="291.65" stroke="#1a1a1a" stroke-width="0.9"/>
<text x="207.70" y="293.95" font-size="6.5" text-anchor="end" fill="#231f20" stroke="#231f20" stroke-width="0.1">0</text>
<line x1="210.60" y1="282.81" x2="213.60" y2="282.81" stroke="#1a1a1a" stroke-width="0.9"/>
<text x="207.70" y="285.11" font-size="6.5" text-anchor="end" fill="#231f20" stroke="#231f20" stroke-width="0.1">10</text>
<line x1="210.60" y1="273.97" x2="213.60" y2="273.97" stroke="#1a1a1a" stroke-width="0.9"/>
<text x="207.70" y="276.27" font-size="6.5" text-anchor="end" fill="#231f20" stroke="#231f20" stroke-width="0.1">20</text>
<line x1="210.60" y1="265.13" x2="213.60" y2="265.13" stroke="#1a1a1a" stroke-width="0.9"/>
<text x="207.70" y="267.43" font-size="6.5" text-anchor="end" fill="#231f20" stroke="#231f20" stroke-width="0.1">30</text>
<line x1="210.60" y1="256.29" x2="213.60" y2="256.29" stroke="#1a1a1a" stroke-width="0.9"/>
<text x="207.70" y="258.59" font-size="6.5" text-anchor="end" fill="#231f20" stroke="#231f20" stroke-width="0.1">40</text>
<line x1="210.60" y1="247.45" x2="213.60" y2="247.45" stroke="#1a1a1a" stroke-width="0.9"/>
<text x="207.70" y="249.75" font-size="6.5" text-anchor="end" fill="#231f20" stroke="#231f20" stroke-width="0.1">50</text>
<line x1="210.60" y1="238.61" x2="213.60" y2="238.61" stroke="#1a1a1a" stroke-width="0.9"/>
<text x="207.70" y="240.91" font-size="6.5" text-anchor="end" fill="#231f20" stroke="#231f20" stroke-width="0.1">60</text>
<line x1="210.60" y1="229.77" x2="213.60" y2="229.77" stroke="#1a1a1a" stroke-width="0.9"/>
<text x="207.70" y="232.07" font-size="6.5" text-anchor="end" fill="#231f20" stroke="#231f20" stroke-width="0.1">70</text>
<line x1="210.60" y1="220.93" x2="213.60" y2="220.93" stroke="#1a1a1a" stroke-width="0.9"/>
<text x="207.70" y="223.23" font-size="6.5" text-anchor="end" fill="#231f20" stroke="#231f20" stroke-width="0.1">80</text>
<line x1="210.60" y1="212.09" x2="213.60" y2="212.09" stroke="#1a1a1a" stroke-width="0.9"/>
<text x="207.70" y="214.39" font-size="6.5" text-anchor="end" fill="#231f20" stroke="#231f20" stroke-width="0.1">90</text>
<line x1="210.60" y1="203.25" x2="213.60" y2="203.25" stroke="#1a1a1a" stroke-width="0.9"/>
<text x="207.70" y="205.55" font-size="6.5" text-anchor="end" fill="#231f20" stroke="#231f20" stroke-width="0.1">100</text>
<line x1="213.10" y1="291.65" x2="343.80" y2="291.65" stroke="#1a1a1a" stroke-width="1.1"/>
<line x1="213.60" y1="291.65" x2="213.60" y2="294.65" stroke="#1a1a1a" stroke-width="0.9"/>
<text x="213.60" y="303.80" font-size="6.5" text-anchor="middle" fill="#231f20" stroke="#231f20" stroke-width="0.1">0</text>
<line x1="229.50" y1="291.65" x2="229.50" y2="294.65" stroke="#1a1a1a" stroke-width="0.9"/>
<text x="229.50" y="303.80" font-size="6.5" text-anchor="middle" fill="#231f20" stroke="#231f20" stroke-width="0.1">1</text>
<line x1="245.40" y1="291.65" x2="245.40" y2="294.65" stroke="#1a1a1a" stroke-width="0.9"/>
<text x="245.40" y="303.80" font-size="6.5" text-anchor="middle" fill="#231f20" stroke="#231f20" stroke-width="0.1">2</text>
<line x1="261.30" y1="291.65" x2="261.30" y2="294.65" stroke="#1a1a1a" stroke-width="0.9"/>
<text x="261.30" y="303.80" font-size="6.5" text-anchor="middle" fill="#231f20" stroke="#231f20" stroke-width="0.1">3</text>
<line x1="277.20" y1="291.65" x2="277.20" y2="294.65" stroke="#1a1a1a" stroke-width="0.9"/>
<text x="277.20" y="303.80" font-size="6.5" text-anchor="middle" fill="#231f20" stroke="#231f20" stroke-width="0.1">4</text>
<line x1="293.10" y1="291.65" x2="293.10" y2="294.65" stroke="#1a1a1a" stroke-width="0.9"/>
<text x="293.10" y="303.80" font-size="6.5" text-anchor="middle" fill="#231f20" stroke="#231f20" stroke-width="0.1">5</text>
<line x1="309.00" y1="291.65" x2="309.00" y2="294.65" stroke="#1a1a1a" stroke-width="0.9"/>
<text x="309.00" y="303.80" font-size="6.5" text-anchor="middle" fill="#231f20" stroke="#231f20" stroke-width="0.1">6</text>
<line x1="324.90" y1="291.65" x2="324.90" y2="294.65" stroke="#1a1a1a" stroke-width="0.9"/>
<text x="324.90" y="303.80" font-size="6.5" text-anchor="middle" fill="#231f20" stroke="#231f20" stroke-width="0.1">7</text>
<line x1="340.80" y1="291.65" x2="340.80" y2="294.65" stroke="#1a1a1a" stroke-width="0.9"/>
<text x="340.80" y="303.80" font-size="6.5" text-anchor="middle" fill="#231f20" stroke="#231f20" stroke-width="0.1">8</text>
<text transform="translate(247.00 315.50) scale(0.81 1)" font-size="8.3" text-anchor="start" fill="#231f20" stroke="#231f20" stroke-width="0.18">Years from transplant</text>
<text transform="translate(191.50 245.70) rotate(-90) scale(0.81 1)" font-size="8.3" text-anchor="middle" fill="#231f20" stroke="#231f20" stroke-width="0.18">Percent survival</text>
<text x="219.80" y="288.70" font-size="6.8" text-anchor="start" fill="#231f20" stroke="#231f20" stroke-width="0.1">p=0.6</text>
<line x1="305.20" y1="276.30" x2="311.60" y2="276.30" stroke="#c0123c" stroke-width="1.8" stroke-opacity="0.6"/>
<line x1="305.20" y1="284.20" x2="311.60" y2="284.20" stroke="#2c4e90" stroke-width="1.8" stroke-opacity="0.5"/>
<line x1="308.80" y1="275.40" x2="308.80" y2="276.60" stroke="#000" stroke-width="0.9"/>
<line x1="308.80" y1="283.30" x2="308.80" y2="284.50" stroke="#000" stroke-width="0.9"/>
<text x="314.60" y="278.60" font-size="6.6" text-anchor="start" fill="#231f20" stroke="#231f20" stroke-width="0.1">MAC n=14</text>
<text x="314.60" y="286.50" font-size="6.6" text-anchor="start" fill="#231f20" stroke="#231f20" stroke-width="0.1">RIC n=35</text>
<text x="186.90" y="326.20" font-size="6.5" text-anchor="start" fill="#231f20" stroke="#231f20" stroke-width="0.1">At risk:</text>
<text x="186.90" y="334.90" font-size="6.5" text-anchor="start" fill="#231f20" stroke="#231f20" stroke-width="0.1">MAC</text>
<text x="186.90" y="343.50" font-size="6.5" text-anchor="start" fill="#231f20" stroke="#231f20" stroke-width="0.1">RIC</text>
<text x="213.60" y="334.90" font-size="6.5" text-anchor="middle" fill="#231f20" stroke="#231f20" stroke-width="0.1">14</text>
<text x="229.50" y="334.90" font-size="6.5" text-anchor="middle" fill="#231f20" stroke="#231f20" stroke-width="0.1">8</text>
<text x="245.40" y="334.90" font-size="6.5" text-anchor="middle" fill="#231f20" stroke="#231f20" stroke-width="0.1">7</text>
<text x="261.30" y="334.90" font-size="6.5" text-anchor="middle" fill="#231f20" stroke="#231f20" stroke-width="0.1">5</text>
<text x="277.20" y="334.90" font-size="6.5" text-anchor="middle" fill="#231f20" stroke="#231f20" stroke-width="0.1">4</text>
<text x="293.10" y="334.90" font-size="6.5" text-anchor="middle" fill="#231f20" stroke="#231f20" stroke-width="0.1">3</text>
<text x="309.00" y="334.90" font-size="6.5" text-anchor="middle" fill="#231f20" stroke="#231f20" stroke-width="0.1">0</text>
<text x="324.90" y="334.90" font-size="6.5" text-anchor="middle" fill="#231f20" stroke="#231f20" stroke-width="0.1">0</text>
<text x="340.80" y="334.90" font-size="6.5" text-anchor="middle" fill="#231f20" stroke="#231f20" stroke-width="0.1">0</text>
<text x="213.60" y="343.50" font-size="6.5" text-anchor="middle" fill="#231f20" stroke="#231f20" stroke-width="0.1">35</text>
<text x="229.50" y="343.50" font-size="6.5" text-anchor="middle" fill="#231f20" stroke="#231f20" stroke-width="0.1">16</text>
<text x="245.40" y="343.50" font-size="6.5" text-anchor="middle" fill="#231f20" stroke="#231f20" stroke-width="0.1">14</text>
<text x="261.30" y="343.50" font-size="6.5" text-anchor="middle" fill="#231f20" stroke="#231f20" stroke-width="0.1">13</text>
<text x="277.20" y="343.50" font-size="6.5" text-anchor="middle" fill="#231f20" stroke="#231f20" stroke-width="0.1">12</text>
<text x="293.10" y="343.50" font-size="6.5" text-anchor="middle" fill="#231f20" stroke="#231f20" stroke-width="0.1">5</text>
<text x="309.00" y="343.50" font-size="6.5" text-anchor="middle" fill="#231f20" stroke="#231f20" stroke-width="0.1">2</text>
<text x="324.90" y="343.50" font-size="6.5" text-anchor="middle" fill="#231f20" stroke="#231f20" stroke-width="0.1">2</text>
<text x="340.80" y="343.50" font-size="6.5" text-anchor="middle" fill="#231f20" stroke="#231f20" stroke-width="0.1">0</text>
<path d="M213.80,203.30 L214.60,205.00 L215.30,208.70 L216.30,210.40 L217.50,212.70 L218.90,215.00 L219.80,217.30 L220.40,223.80 L221.50,227.20 L222.40,231.30 L223.30,235.60 L223.70,240.50 L224.10,243.40 L226.10,243.40 L226.50,248.10 L227.30,251.10 L236.80,251.10 L236.80,253.80 L250.70,253.80 L250.70,256.50 L327.90,256.50" fill="none" stroke="#2c4e90" stroke-width="1.3" stroke-linejoin="miter" stroke-miterlimit="2"/>
<path d="M213.80,203.30 L214.60,203.30 L214.60,215.00 L215.50,215.60 L216.30,217.30 L216.50,217.30 L216.50,222.30 L220.30,222.30 L220.30,234.50 L226.90,234.50 L226.90,240.90 L230.90,240.90 L230.90,247.30 L302.30,247.30" fill="none" stroke="#c0123c" stroke-width="1.3" stroke-linejoin="miter" stroke-miterlimit="2"/>
<line x1="229.30" y1="249.60" x2="229.30" y2="251.20" stroke="#111" stroke-width="0.8"/>
<line x1="267.30" y1="255.00" x2="267.30" y2="256.60" stroke="#111" stroke-width="0.8"/>
<line x1="277.90" y1="255.00" x2="277.90" y2="256.60" stroke="#111" stroke-width="0.8"/>
<line x1="288.50" y1="255.00" x2="288.50" y2="256.60" stroke="#111" stroke-width="0.8"/>
<line x1="291.30" y1="255.00" x2="291.30" y2="256.60" stroke="#111" stroke-width="0.8"/>
<line x1="297.10" y1="255.00" x2="297.10" y2="256.60" stroke="#111" stroke-width="0.8"/>
<line x1="300.00" y1="255.00" x2="300.00" y2="256.60" stroke="#111" stroke-width="0.8"/>
<line x1="326.00" y1="255.00" x2="326.00" y2="256.60" stroke="#111" stroke-width="0.8"/>
<line x1="327.90" y1="255.00" x2="327.90" y2="256.60" stroke="#111" stroke-width="0.8"/>
<line x1="253.40" y1="245.80" x2="253.40" y2="247.40" stroke="#111" stroke-width="0.8"/>
<line x1="256.00" y1="245.80" x2="256.00" y2="247.40" stroke="#111" stroke-width="0.8"/>
<line x1="276.00" y1="245.80" x2="276.00" y2="247.40" stroke="#111" stroke-width="0.8"/>
<line x1="277.90" y1="245.80" x2="277.90" y2="247.40" stroke="#111" stroke-width="0.8"/>
<line x1="296.20" y1="245.80" x2="296.20" y2="247.40" stroke="#111" stroke-width="0.8"/>
<line x1="302.00" y1="245.80" x2="302.00" y2="247.40" stroke="#111" stroke-width="0.8"/>
<text transform="translate(237.50 245.30) scale(0.96 1)" font-size="6.5" text-anchor="start" fill="#c42a52" stroke="#c42a52" stroke-width="0.1">50%</text>
<text transform="translate(237.10 265.20) scale(0.96 1)" font-size="6.5" text-anchor="start" fill="#4a66a0" stroke="#4a66a0" stroke-width="0.1">43%</text>
<text x="353.10" y="193.80" font-size="11.2" text-anchor="start" fill="#000" font-weight="bold">F</text>
<line x1="382.60" y1="200.65" x2="382.60" y2="292.15" stroke="#1a1a1a" stroke-width="1.1"/>
<line x1="379.60" y1="291.65" x2="382.60" y2="291.65" stroke="#1a1a1a" stroke-width="0.9"/>
<text x="376.70" y="293.95" font-size="6.5" text-anchor="end" fill="#231f20" stroke="#231f20" stroke-width="0.1">0</text>
<line x1="379.60" y1="282.81" x2="382.60" y2="282.81" stroke="#1a1a1a" stroke-width="0.9"/>
<text x="376.70" y="285.11" font-size="6.5" text-anchor="end" fill="#231f20" stroke="#231f20" stroke-width="0.1">10</text>
<line x1="379.60" y1="273.97" x2="382.60" y2="273.97" stroke="#1a1a1a" stroke-width="0.9"/>
<text x="376.70" y="276.27" font-size="6.5" text-anchor="end" fill="#231f20" stroke="#231f20" stroke-width="0.1">20</text>
<line x1="379.60" y1="265.13" x2="382.60" y2="265.13" stroke="#1a1a1a" stroke-width="0.9"/>
<text x="376.70" y="267.43" font-size="6.5" text-anchor="end" fill="#231f20" stroke="#231f20" stroke-width="0.1">30</text>
<line x1="379.60" y1="256.29" x2="382.60" y2="256.29" stroke="#1a1a1a" stroke-width="0.9"/>
<text x="376.70" y="258.59" font-size="6.5" text-anchor="end" fill="#231f20" stroke="#231f20" stroke-width="0.1">40</text>
<line x1="379.60" y1="247.45" x2="382.60" y2="247.45" stroke="#1a1a1a" stroke-width="0.9"/>
<text x="376.70" y="249.75" font-size="6.5" text-anchor="end" fill="#231f20" stroke="#231f20" stroke-width="0.1">50</text>
<line x1="379.60" y1="238.61" x2="382.60" y2="238.61" stroke="#1a1a1a" stroke-width="0.9"/>
<text x="376.70" y="240.91" font-size="6.5" text-anchor="end" fill="#231f20" stroke="#231f20" stroke-width="0.1">60</text>
<line x1="379.60" y1="229.77" x2="382.60" y2="229.77" stroke="#1a1a1a" stroke-width="0.9"/>
<text x="376.70" y="232.07" font-size="6.5" text-anchor="end" fill="#231f20" stroke="#231f20" stroke-width="0.1">70</text>
<line x1="379.60" y1="220.93" x2="382.60" y2="220.93" stroke="#1a1a1a" stroke-width="0.9"/>
<text x="376.70" y="223.23" font-size="6.5" text-anchor="end" fill="#231f20" stroke="#231f20" stroke-width="0.1">80</text>
<line x1="379.60" y1="212.09" x2="382.60" y2="212.09" stroke="#1a1a1a" stroke-width="0.9"/>
<text x="376.70" y="214.39" font-size="6.5" text-anchor="end" fill="#231f20" stroke="#231f20" stroke-width="0.1">90</text>
<line x1="379.60" y1="203.25" x2="382.60" y2="203.25" stroke="#1a1a1a" stroke-width="0.9"/>
<text x="376.70" y="205.55" font-size="6.5" text-anchor="end" fill="#231f20" stroke="#231f20" stroke-width="0.1">100</text>
<line x1="382.10" y1="291.65" x2="512.80" y2="291.65" stroke="#1a1a1a" stroke-width="1.1"/>
<line x1="382.60" y1="291.65" x2="382.60" y2="294.65" stroke="#1a1a1a" stroke-width="0.9"/>
<text x="382.60" y="303.80" font-size="6.5" text-anchor="middle" fill="#231f20" stroke="#231f20" stroke-width="0.1">0</text>
<line x1="398.50" y1="291.65" x2="398.50" y2="294.65" stroke="#1a1a1a" stroke-width="0.9"/>
<text x="398.50" y="303.80" font-size="6.5" text-anchor="middle" fill="#231f20" stroke="#231f20" stroke-width="0.1">1</text>
<line x1="414.40" y1="291.65" x2="414.40" y2="294.65" stroke="#1a1a1a" stroke-width="0.9"/>
<text x="414.40" y="303.80" font-size="6.5" text-anchor="middle" fill="#231f20" stroke="#231f20" stroke-width="0.1">2</text>
<line x1="430.30" y1="291.65" x2="430.30" y2="294.65" stroke="#1a1a1a" stroke-width="0.9"/>
<text x="430.30" y="303.80" font-size="6.5" text-anchor="middle" fill="#231f20" stroke="#231f20" stroke-width="0.1">3</text>
<line x1="446.20" y1="291.65" x2="446.20" y2="294.65" stroke="#1a1a1a" stroke-width="0.9"/>
<text x="446.20" y="303.80" font-size="6.5" text-anchor="middle" fill="#231f20" stroke="#231f20" stroke-width="0.1">4</text>
<line x1="462.10" y1="291.65" x2="462.10" y2="294.65" stroke="#1a1a1a" stroke-width="0.9"/>
<text x="462.10" y="303.80" font-size="6.5" text-anchor="middle" fill="#231f20" stroke="#231f20" stroke-width="0.1">5</text>
<line x1="478.00" y1="291.65" x2="478.00" y2="294.65" stroke="#1a1a1a" stroke-width="0.9"/>
<text x="478.00" y="303.80" font-size="6.5" text-anchor="middle" fill="#231f20" stroke="#231f20" stroke-width="0.1">6</text>
<line x1="493.90" y1="291.65" x2="493.90" y2="294.65" stroke="#1a1a1a" stroke-width="0.9"/>
<text x="493.90" y="303.80" font-size="6.5" text-anchor="middle" fill="#231f20" stroke="#231f20" stroke-width="0.1">7</text>
<line x1="509.80" y1="291.65" x2="509.80" y2="294.65" stroke="#1a1a1a" stroke-width="0.9"/>
<text x="509.80" y="303.80" font-size="6.5" text-anchor="middle" fill="#231f20" stroke="#231f20" stroke-width="0.1">8</text>
<text transform="translate(416.00 315.50) scale(0.81 1)" font-size="8.3" text-anchor="start" fill="#231f20" stroke="#231f20" stroke-width="0.18">Years from transplant</text>
<text transform="translate(360.50 245.70) rotate(-90) scale(0.81 1)" font-size="8.3" text-anchor="middle" fill="#231f20" stroke="#231f20" stroke-width="0.18">Percent survival</text>
<text x="387.20" y="288.70" font-size="6.8" text-anchor="start" fill="#231f20" stroke="#231f20" stroke-width="0.1">p=0.003</text>
<line x1="459.20" y1="276.50" x2="465.60" y2="276.50" stroke="#c0123c" stroke-width="1.8" stroke-opacity="0.6"/>
<line x1="459.20" y1="284.20" x2="465.60" y2="284.20" stroke="#2c4e90" stroke-width="1.8" stroke-opacity="0.5"/>
<line x1="462.80" y1="275.60" x2="462.80" y2="276.80" stroke="#000" stroke-width="0.9"/>
<line x1="462.80" y1="283.30" x2="462.80" y2="284.50" stroke="#000" stroke-width="0.9"/>
<text x="468.60" y="278.80" font-size="6.6" text-anchor="start" fill="#231f20" stroke="#231f20" stroke-width="0.1">T-replete n=8</text>
<text x="468.60" y="286.50" font-size="6.6" text-anchor="start" fill="#231f20" stroke="#231f20" stroke-width="0.1">T-deplete n=41</text>
<text x="355.60" y="326.20" font-size="6.5" text-anchor="start" fill="#231f20" stroke="#231f20" stroke-width="0.1">At risk:</text>
<text x="355.60" y="334.90" font-size="6.5" text-anchor="start" fill="#231f20" stroke="#231f20" stroke-width="0.1">T-rep</text>
<text x="355.60" y="343.50" font-size="6.5" text-anchor="start" fill="#231f20" stroke="#231f20" stroke-width="0.1">T-dep</text>
<text x="382.60" y="334.90" font-size="6.5" text-anchor="middle" fill="#231f20" stroke="#231f20" stroke-width="0.1">8</text>
<text x="398.50" y="334.90" font-size="6.5" text-anchor="middle" fill="#231f20" stroke="#231f20" stroke-width="0.1">8</text>
<text x="414.40" y="334.90" font-size="6.5" text-anchor="middle" fill="#231f20" stroke="#231f20" stroke-width="0.1">7</text>
<text x="430.30" y="334.90" font-size="6.5" text-anchor="middle" fill="#231f20" stroke="#231f20" stroke-width="0.1">5</text>
<text x="446.20" y="334.90" font-size="6.5" text-anchor="middle" fill="#231f20" stroke="#231f20" stroke-width="0.1">4</text>
<text x="462.10" y="334.90" font-size="6.5" text-anchor="middle" fill="#231f20" stroke="#231f20" stroke-width="0.1">3</text>
<text x="478.00" y="334.90" font-size="6.5" text-anchor="middle" fill="#231f20" stroke="#231f20" stroke-width="0.1">0</text>
<text x="493.90" y="334.90" font-size="6.5" text-anchor="middle" fill="#231f20" stroke="#231f20" stroke-width="0.1">0</text>
<text x="509.80" y="334.90" font-size="6.5" text-anchor="middle" fill="#231f20" stroke="#231f20" stroke-width="0.1">0</text>
<text x="382.60" y="343.50" font-size="6.5" text-anchor="middle" fill="#231f20" stroke="#231f20" stroke-width="0.1">41</text>
<text x="398.50" y="343.50" font-size="6.5" text-anchor="middle" fill="#231f20" stroke="#231f20" stroke-width="0.1">16</text>
<text x="414.40" y="343.50" font-size="6.5" text-anchor="middle" fill="#231f20" stroke="#231f20" stroke-width="0.1">14</text>
<text x="430.30" y="343.50" font-size="6.5" text-anchor="middle" fill="#231f20" stroke="#231f20" stroke-width="0.1">13</text>
<text x="446.20" y="343.50" font-size="6.5" text-anchor="middle" fill="#231f20" stroke="#231f20" stroke-width="0.1">12</text>
<text x="462.10" y="343.50" font-size="6.5" text-anchor="middle" fill="#231f20" stroke="#231f20" stroke-width="0.1">5</text>
<text x="478.00" y="343.50" font-size="6.5" text-anchor="middle" fill="#231f20" stroke="#231f20" stroke-width="0.1">2</text>
<text x="493.90" y="343.50" font-size="6.5" text-anchor="middle" fill="#231f20" stroke="#231f20" stroke-width="0.1">2</text>
<text x="509.80" y="343.50" font-size="6.5" text-anchor="middle" fill="#231f20" stroke="#231f20" stroke-width="0.1">0</text>
<path d="M382.60,203.30 L383.20,204.00 L383.80,207.50 L384.30,210.40 L385.20,213.30 L386.10,216.20 L387.20,219.60 L388.10,220.60 L388.70,223.50 L388.90,227.50 L389.20,231.00 L390.10,233.30 L391.00,235.60 L391.30,240.00 L392.50,244.60 L393.10,248.30 L395.10,248.30 L395.40,252.70 L396.50,257.30 L399.40,257.30 L399.40,259.00 L405.50,259.00 L405.50,261.30 L419.60,261.30 L419.60,263.50 L496.50,263.50" fill="none" stroke="#2c4e90" stroke-width="1.3" stroke-linejoin="miter" stroke-miterlimit="2"/>
<path d="M382.60,203.30 L471.70,203.30" fill="none" stroke="#c0123c" stroke-width="1.3" stroke-linejoin="miter" stroke-miterlimit="2"/>
<line x1="436.30" y1="262.00" x2="436.30" y2="263.60" stroke="#111" stroke-width="0.8"/>
<line x1="446.20" y1="262.00" x2="446.20" y2="263.60" stroke="#111" stroke-width="0.8"/>
<line x1="457.30" y1="262.00" x2="457.30" y2="263.60" stroke="#111" stroke-width="0.8"/>
<line x1="460.00" y1="262.00" x2="460.00" y2="263.60" stroke="#111" stroke-width="0.8"/>
<line x1="465.60" y1="262.00" x2="465.60" y2="263.60" stroke="#111" stroke-width="0.8"/>
<line x1="468.30" y1="262.00" x2="468.30" y2="263.60" stroke="#111" stroke-width="0.8"/>
<line x1="494.60" y1="262.00" x2="494.60" y2="263.60" stroke="#111" stroke-width="0.8"/>
<line x1="398.30" y1="201.80" x2="398.30" y2="203.40" stroke="#111" stroke-width="0.8"/>
<line x1="422.10" y1="201.80" x2="422.10" y2="203.40" stroke="#111" stroke-width="0.8"/>
<line x1="424.50" y1="201.80" x2="424.50" y2="203.40" stroke="#111" stroke-width="0.8"/>
<line x1="444.30" y1="201.80" x2="444.30" y2="203.40" stroke="#111" stroke-width="0.8"/>
<line x1="446.20" y1="201.80" x2="446.20" y2="203.40" stroke="#111" stroke-width="0.8"/>
<line x1="465.60" y1="201.80" x2="465.60" y2="203.40" stroke="#111" stroke-width="0.8"/>
<line x1="471.10" y1="201.80" x2="471.10" y2="203.40" stroke="#111" stroke-width="0.8"/>
<text transform="translate(404.60 210.80) scale(0.96 1)" font-size="6.5" text-anchor="start" fill="#c42a52" stroke="#c42a52" stroke-width="0.1">100%</text>
<text transform="translate(405.80 259.60) scale(0.96 1)" font-size="6.5" text-anchor="start" fill="#4a66a0" stroke="#4a66a0" stroke-width="0.1">34%</text>
<rect x="0.5" y="0.5" width="519" height="350" fill="none" stroke="#000" stroke-width="1"/>
</svg>
</body></html>
